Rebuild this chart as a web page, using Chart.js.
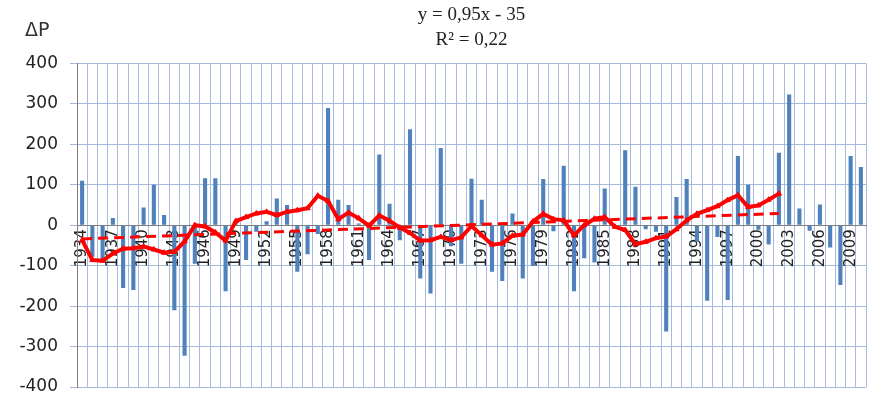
<!DOCTYPE html>
<html>
<head>
<meta charset="utf-8">
<script src="https://cdn.jsdelivr.net/npm/chart.js@4.4.1/dist/chart.umd.min.js"></script>
<style>
  html, body { margin: 0; padding: 0; background: #fff; }
  #wrap { width: 883px; height: 401px; }
</style>
</head>
<body>
<div id="wrap"><canvas id="myChart" width="883" height="401"></canvas></div>
<script>
// years 1934..2010
var years = [
  "1934","1935","1936","1937","1938","1939","1940","1941","1942","1943",
  "1944","1945","1946","1947","1948","1949","1950","1951","1952","1953",
  "1954","1955","1956","1957","1958","1959","1960","1961","1962","1963",
  "1964","1965","1966","1967","1968","1969","1970","1971","1972","1973",
  "1974","1975","1976","1977","1978","1979","1980","1981","1982","1983",
  "1984","1985","1986","1987","1988","1989","1990","1991","1992","1993",
  "1994","1995","1996","1997","1998","1999","2000","2001","2002","2003",
  "2004","2005","2006","2007","2008","2009","2010"
];

// yearly anomaly (bars)
var deltaP = [
  110, -78, -85, 18, -155, -160, 44, 100, 25, -210,
  -323, -95, 116, 116, -163, 5, -86, -16, 10, 66,
  50, -115, -72, -22, 290, 63, 50, 4, -86, 175,
  53, -37, 237, -132, -169, 191, -52, -95, 115, 63,
  -115, -138, 29, -132, -101, 114, -15, 147, -163, -82,
  -92, 91, -8, 185, 95, -10, -16, -263, 70, 114,
  -41, -187, -29, -185, 171, 100, -11, -48, 179, 323,
  41, -14, 51, -55, -148, 171, 144
];

// smoothed curve, 1934..2002
var smoothed = [
  -37, -86, -88, -70, -58, -57, -53, -60, -68, -66,
  -40, 0, -3, -18, -38, 10, 20, 29, 33, 25,
  33, 37, 42, 73, 60, 15, 31, 17, -1, 24,
  11, -6, -19, -38, -37, -29, -37, -30, -2, -25,
  -48, -45, -26, -23, 9, 28, 15, 12, -25, 0,
  16, 20, -4, -12, -47, -41, -32, -28, -10, 12,
  28, 37, 47, 62, 74, 45, 49, 63, 78
];

// linear trend end points
var trendYears = ["1934", "2002"];
var trendValues = [-34, 29];

var yTicks = [-400, -300, -200, -100, 0, 100, 200, 300, 400];

var gridColor = "#A6BADB";
var axisColor = "#808080";

Chart.defaults.font.family = "'DejaVu Sans', Verdana, sans-serif";
Chart.defaults.color = "#222";

// the ΔP label at top left
var deltaLabel = {
  id: "deltaLabel",
  afterDraw: function (chart) {
    var c = chart.ctx;
    c.save();
    c.font = "19px 'DejaVu Sans'";
    c.fillStyle = "#333";
    c.textAlign = "left";
    c.textBaseline = "middle";
    c.fillText("\u0394P", 25, 31);
    c.restore();
  }
};

var ctx = document.getElementById("myChart").getContext("2d");
var myChart = new Chart(ctx, {
  type: "bar",
  data: {
    labels: years,
    datasets: [
      {
        type: "line",
        label: "smoothed",
        data: smoothed,
        borderColor: "#FF0000",
        backgroundColor: "#FF0000",
        borderWidth: 4,
        pointStyle: "triangle",
        pointRadius: 3,
        pointBorderWidth: 1,
        tension: 0,
        order: 1
      },
      {
        type: "line",
        label: "trend",
        data: trendYears.map(function (y, i) { return { x: y, y: trendValues[i] }; }),
        borderColor: "#FF0000",
        borderWidth: 3,
        borderDash: [10, 6],
        pointRadius: 0,
        order: 2
      },
      {
        label: "\u0394P",
        data: deltaP,
        backgroundColor: "#4F81BD",
        barPercentage: 0.4,
        categoryPercentage: 1.0,
        order: 3
      }
    ]
  },
  options: {
    responsive: false,
    animation: false,
    layout: { padding: { left: 0, right: 3, top: 0, bottom: 14 } },
    plugins: {
      legend: { display: false },
      tooltip: { enabled: false },
      title: {
        display: true,
        fullSize: false,
        text: ["y = 0,95x - 35", "R\u00B2 = 0,22"],
        font: { family: "'Liberation Serif', 'Times New Roman', serif", size: 19, weight: "normal", lineHeight: 1.3 },
        color: "#222",
        padding: { top: 3, bottom: 11 }
      }
    },
    scales: {
      x: {
        position: { y: 0 },
        grid: { color: gridColor, lineWidth: 1, offset: true, drawTicks: false },
        border: { color: axisColor, width: 1 },
        ticks: {
          autoSkip: false,
          minRotation: 90,
          maxRotation: 90,
          padding: 4,
          font: { size: 15 },
          color: "#222",
          callback: function (value, index) {
            return index % 3 === 0 ? years[index] : "";
          }
        },
        afterFit: function (scale) { scale.height = 0; }
      },
      y: {
        min: -400,
        max: 400,
        grid: { color: gridColor, lineWidth: 1, tickLength: 7 },
        border: { color: axisColor, width: 1 },
        ticks: {
          stepSize: 100,
          padding: 12,
          font: { size: 17 },
          color: "#222",
          callback: function (value) { return yTicks.indexOf(value) >= 0 ? value : ""; }
        },
        afterFit: function (scale) {
          scale.width = 77;
          scale.paddingTop = 0;
          scale.paddingBottom = 0;
        }
      }
    }
  },
  plugins: [deltaLabel]
});
</script>
</body>
</html>
